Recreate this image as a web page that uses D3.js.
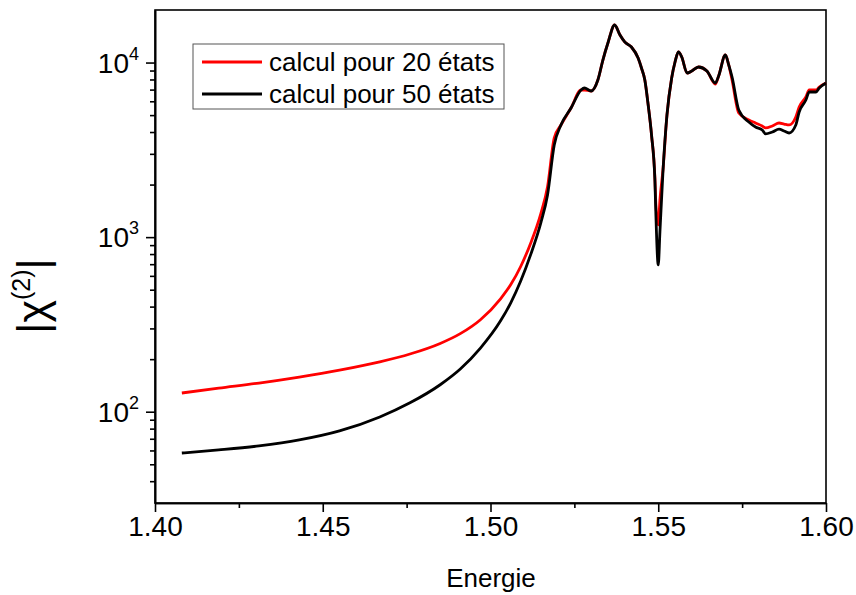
<!DOCTYPE html>
<html><head><meta charset="utf-8">
<script src="https://cdn.jsdelivr.net/npm/d3@7"></script>
<style>body{margin:0;background:#fff}svg{display:block}text{font-family:"Liberation Sans",Arial,sans-serif;fill:#000}</style>
</head><body>
<svg id="chart" width="856" height="595"></svg>
<script>
const energy = [1.408,1.419,1.431,1.443,1.455,1.467,1.476,1.485,1.491,1.497,1.503,1.506,1.509,1.512,1.515,1.517,1.519,1.521,1.524,1.527,1.528,1.530,1.532,1.5335,1.535,1.537,1.5386,1.540,1.542,1.544,1.545,1.546,1.547,1.548,1.549,1.5493,1.550,1.5505,1.5514,1.5526,1.554,1.555,1.556,1.557,1.5586,1.560,1.562,1.5645,1.567,1.568,1.570,1.571,1.572,1.574,1.577,1.579,1.581,1.582,1.584,1.586,1.5875,1.589,1.591,1.592,1.594,1.595,1.597,1.598,1.600];
const chi20 = [128,136.5,146,158,173,193,214,246,280,336.5,443.6,533,679,927,1365,1945,3707,4390,5490,6965,6965,6870,7943,10340,12940,16410,14380,13120,12280,10620,9310,7943,5715,3845,2182,1528,1174,1632,2425,5010,8155,10070,11500,10760,8710,8950,9430,8950,7535,8375,11050,9700,7943,5140,4690,4505,4330,4220,4330,4505,4445,4390,4880,5560,6350,6965,6965,7245,7635];
const chi50 = [58,60.4,63.7,68.9,77.6,93.3,112.4,142.7,175.6,231.4,331.5,419.4,560.6,797,1207,1744,3371,4390,5490,6965,7150,6870,7943,10340,12940,16410,14380,13120,12280,10620,9310,7943,5715,3845,2125,1340,693,1070,2361,5010,8155,10070,11500,10760,8710,8950,9430,8950,7635,8375,11050,9700,8265,5350,4565,4275,4110,3900,4000,4160,4055,3950,4390,5210,6105,6780,6780,7150,7635];
const seriesNames = ["calcul pour 20 états","calcul pour 50 états"];
const seriesColors = ["#ff0000","#000000"];
const xTicks = [1.40,1.45,1.50,1.55,1.60];
const xMinor = [1.425,1.475,1.525,1.575];
const yTicks = [100,1000,10000];
const yTickExp = ["2","3","4"];
const yMinor = [40,50,60,70,80,90,200,300,400,500,600,700,800,900,2000,3000,4000,5000,6000,7000,8000,9000];

const svg = d3.select("#chart");
const L=155,R=826,T=10,B=503;
const x = d3.scaleLinear().domain([1.40,1.60]).range([L,R]);
const y = d3.scaleLog().domain([30,20000]).range([B,T]);

// frame
svg.append("rect").attr("x",L).attr("y",T).attr("width",R-L).attr("height",B-T)
  .attr("fill","none").attr("stroke","#000").attr("stroke-width",1.6);

// x axis
const gx = svg.append("g").attr("transform",`translate(0,${B})`);
gx.call(d3.axisBottom(x).tickValues(xTicks).tickSize(9).tickSizeOuter(0).tickPadding(4).tickFormat(d3.format(".2f")));
const gxm = svg.append("g").attr("transform",`translate(0,${B})`);
gxm.call(d3.axisBottom(x).tickValues(xMinor).tickSize(5).tickSizeOuter(0).tickFormat(""));
[gx,gxm].forEach(g=>{g.select(".domain").attr("stroke-width",1.6);g.selectAll(".tick line").attr("stroke-width",1.6);});
gx.selectAll("text").style("font-size","28px").attr("fill","#000");

// y axis
const gy = svg.append("g").attr("transform",`translate(${L},0)`);
gy.call(d3.axisLeft(y).tickValues(yTicks).tickSize(9).tickSizeOuter(0).tickFormat(""));
const gym = svg.append("g").attr("transform",`translate(${L},0)`);
gym.call(d3.axisLeft(y).tickValues(yMinor).tickSize(5).tickSizeOuter(0).tickFormat(""));
[gy,gym].forEach(g=>{g.select(".domain").attr("stroke-width",1.6);g.selectAll(".tick line").attr("stroke-width",1.6);});
yTicks.forEach((v,i)=>{
  const t = svg.append("text").attr("x",L-16).attr("y",y(v)+10).attr("text-anchor","end").style("font-size","28px");
  t.append("tspan").text("10");
  t.append("tspan").attr("dy",-13).style("font-size","18px").text(yTickExp[i]);
});

// lines
const line = d3.line().x((d,i)=>x(energy[i])).y(d=>y(d)).curve(d3.curveMonotoneX);
[chi20,chi50].forEach((s,k)=>{
  svg.append("path").datum(s).attr("d",line).attr("fill","none")
    .attr("stroke",seriesColors[k]).attr("stroke-width",2.8).attr("stroke-linejoin","round");
});

// legend
const lg = svg.append("g");
lg.append("rect").attr("x",193).attr("y",44).attr("width",311).attr("height",65)
  .attr("fill","#fff").attr("stroke","#555").attr("stroke-width",1);
seriesNames.forEach((n,k)=>{
  const yy = 62 + k*32;
  lg.append("line").attr("x1",202).attr("x2",262).attr("y1",yy).attr("y2",yy)
    .attr("stroke",seriesColors[k]).attr("stroke-width",2.8);
  lg.append("text").attr("x",269).attr("y",yy+9).style("font-size","26px").text(n);
});

// axis titles
svg.append("text").attr("x",491).attr("y",587).attr("text-anchor","middle").style("font-size","26px").text("Energie");
const yl = svg.append("text").attr("transform","translate(47,296) rotate(-90)").attr("text-anchor","middle").style("font-size","43px");
yl.append("tspan").text("|χ");
yl.append("tspan").attr("dy",-17).style("font-size","25px").text("(2)");
yl.append("tspan").attr("dy",17).text("|");
</script>
</body></html>
